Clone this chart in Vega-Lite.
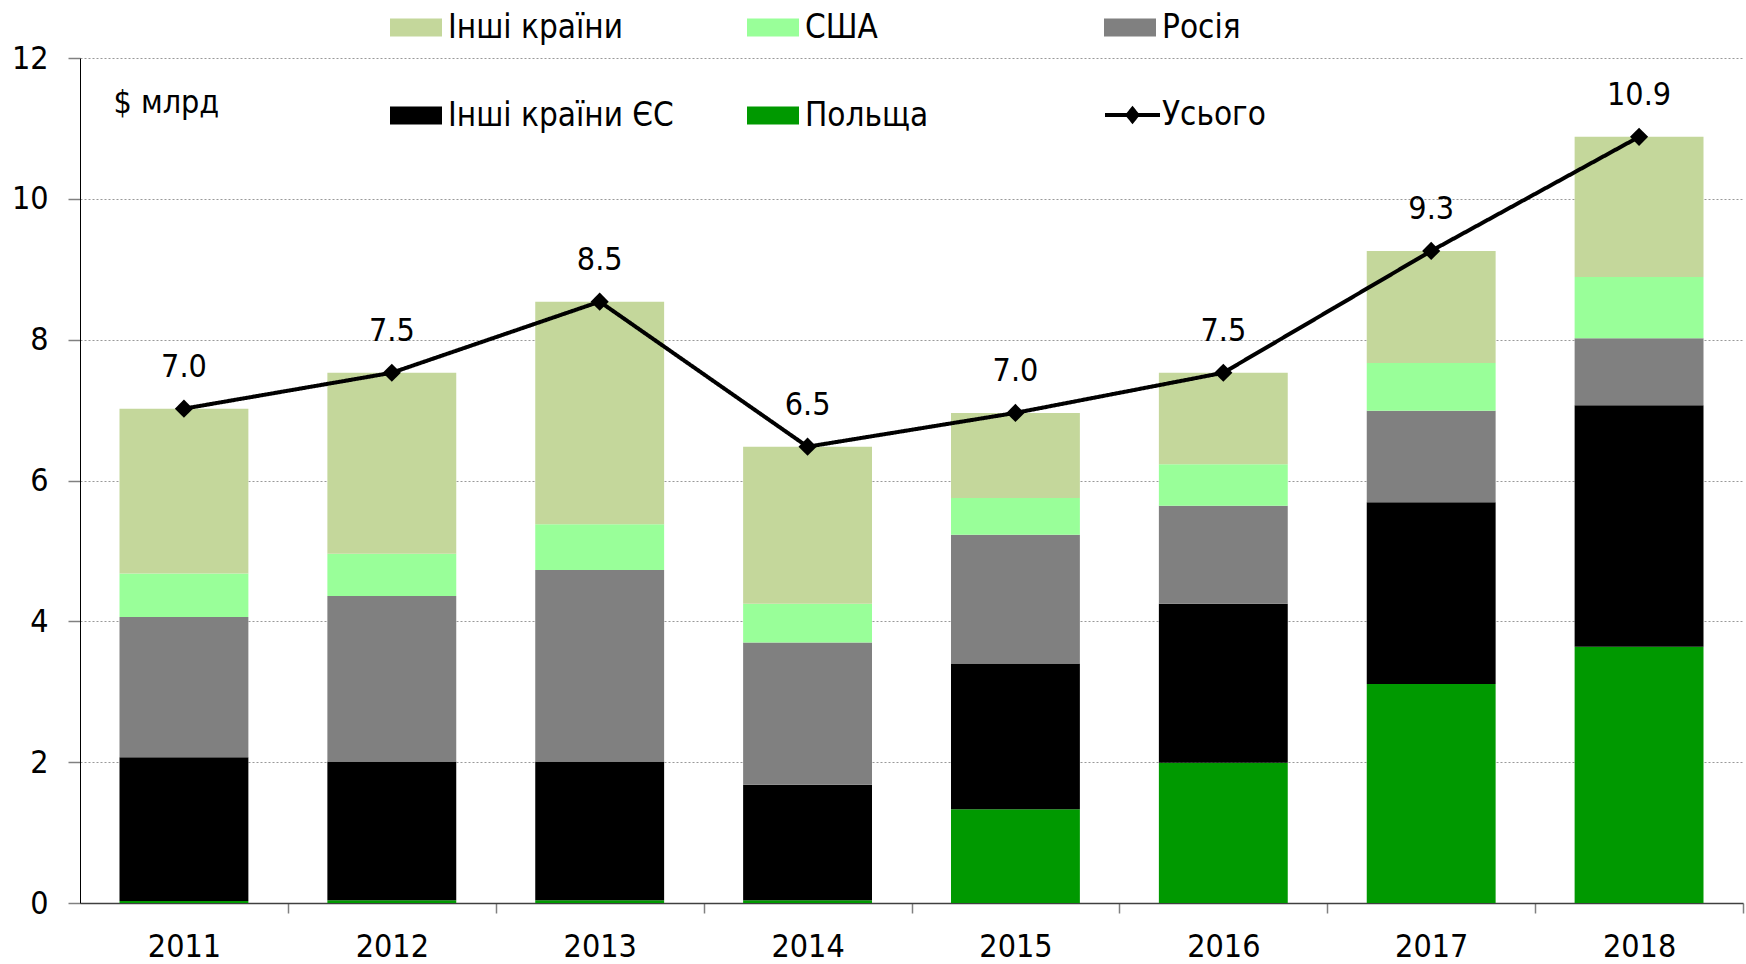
{
  "$schema": "https://vega.github.io/schema/vega-lite/v6.json",
  "width": 1663,
  "height": 845,
  "autosize": {"type": "none"},
  "padding": {"left": 80, "top": 58, "right": 3, "bottom": 61},
  "background": "white",
  "config": {
    "font": "DejaVu Sans Condensed",
    "view": {"stroke": null}
  },
  "datasets": {
    "bars": [
      {"year": "2011", "country": "Польща", "value": 0.03},
      {"year": "2011", "country": "Інші країни ЄС", "value": 2.04},
      {"year": "2011", "country": "Росія", "value": 1.99},
      {"year": "2011", "country": "США", "value": 0.62},
      {"year": "2011", "country": "Інші країни", "value": 2.34},
      {"year": "2012", "country": "Польща", "value": 0.04},
      {"year": "2012", "country": "Інші країни ЄС", "value": 1.97},
      {"year": "2012", "country": "Росія", "value": 2.35},
      {"year": "2012", "country": "США", "value": 0.60},
      {"year": "2012", "country": "Інші країни", "value": 2.57},
      {"year": "2013", "country": "Польща", "value": 0.04},
      {"year": "2013", "country": "Інші країни ЄС", "value": 1.97},
      {"year": "2013", "country": "Росія", "value": 2.72},
      {"year": "2013", "country": "США", "value": 0.65},
      {"year": "2013", "country": "Інші країни", "value": 3.16},
      {"year": "2014", "country": "Польща", "value": 0.04},
      {"year": "2014", "country": "Інші країни ЄС", "value": 1.64},
      {"year": "2014", "country": "Росія", "value": 2.02},
      {"year": "2014", "country": "США", "value": 0.55},
      {"year": "2014", "country": "Інші країни", "value": 2.23},
      {"year": "2015", "country": "Польща", "value": 1.33},
      {"year": "2015", "country": "Інші країни ЄС", "value": 2.07},
      {"year": "2015", "country": "Росія", "value": 1.83},
      {"year": "2015", "country": "США", "value": 0.52},
      {"year": "2015", "country": "Інші країни", "value": 1.21},
      {"year": "2016", "country": "Польща", "value": 1.99},
      {"year": "2016", "country": "Інші країни ЄС", "value": 2.26},
      {"year": "2016", "country": "Росія", "value": 1.39},
      {"year": "2016", "country": "США", "value": 0.59},
      {"year": "2016", "country": "Інші країни", "value": 1.30},
      {"year": "2017", "country": "Польща", "value": 3.11},
      {"year": "2017", "country": "Інші країни ЄС", "value": 2.58},
      {"year": "2017", "country": "Росія", "value": 1.30},
      {"year": "2017", "country": "США", "value": 0.68},
      {"year": "2017", "country": "Інші країни", "value": 1.59},
      {"year": "2018", "country": "Польща", "value": 3.64},
      {"year": "2018", "country": "Інші країни ЄС", "value": 3.43},
      {"year": "2018", "country": "Росія", "value": 0.95},
      {"year": "2018", "country": "США", "value": 0.87},
      {"year": "2018", "country": "Інші країни", "value": 1.99}
    ],
    "totals": [
      {"year": "2011", "total": 7.02, "series": "Усього"},
      {"year": "2012", "total": 7.53, "series": "Усього"},
      {"year": "2013", "total": 8.54, "series": "Усього"},
      {"year": "2014", "total": 6.48, "series": "Усього"},
      {"year": "2015", "total": 6.96, "series": "Усього"},
      {"year": "2016", "total": 7.53, "series": "Усього"},
      {"year": "2017", "total": 9.26, "series": "Усього"},
      {"year": "2018", "total": 10.88, "series": "Усього"}
    ]
  },
  "layer": [
    {
      "data": {"name": "bars"},
      "transform": [{"window": [{"op": "row_number", "as": "stackIdx"}], "groupby": ["year"]}],
      "mark": {"type": "bar"},
      "encoding": {
        "x": {
          "field": "year", "type": "ordinal",
          "scale": {"paddingInner": 0.38, "paddingOuter": 0.19},
          "axis": {
            "title": null, "labelAngle": 0, "labelFontSize": 32, "labelColor": "black",
            "bandPosition": 1, "tickOffset": 39.5, "labelOffset": -39.5,
            "tickSize": 10, "tickColor": "#808080", "tickWidth": 1.5,
            "domainColor": "#404040", "domainWidth": 1.5, "labelPadding": 18
          }
        },
        "y": {
          "field": "value", "type": "quantitative", "stack": "zero",
          "scale": {"domain": [0, 12], "nice": false},
          "axis": {
            "values": [0, 2, 4, 6, 8, 10, 12], "format": "d",
            "grid": true, "gridDash": [2, 2], "gridColor": "#999999", "gridWidth": 1,
            "domainColor": "black", "domainWidth": 1,
            "tickColor": "#808080", "tickSize": 12, "tickWidth": 1.5,
            "labelFontSize": 32, "labelColor": "black", "labelPadding": 20,
            "title": "$ млрд", "titleAngle": 0, "titleAlign": "left", "titleBaseline": "middle",
            "titleX": 33, "titleY": 44, "titleFontSize": 32, "titleFontWeight": "normal", "titleColor": "black"
          }
        },
        "color": {
          "field": "country", "type": "nominal",
          "scale": {
            "domain": ["Інші країни", "США", "Росія", "Інші країни ЄС", "Польща"],
            "range": ["#C4D79B", "#99FF99", "#808080", "#000000", "#009900"]
          },
          "legend": {
            "title": null, "orient": "none", "legendX": 310, "legendY": -56.5,
            "direction": "horizontal",
            "columns": 3, "gridAlign": "all", "columnPadding": 73, "rowPadding": 45,
            "symbolType": "M-1,-0.35H1V0.35H-1Z", "symbolSize": 2704, "symbolStrokeWidth": 0,
            "labelFontSize": 33, "labelColor": "black", "labelOffset": 6, "labelLimit": 400
          }
        },
        "order": {"field": "stackIdx", "type": "quantitative", "sort": "ascending"}
      }
    },
    {
      "data": {"name": "totals"},
      "mark": {"type": "line", "color": "black", "strokeWidth": 4},
      "encoding": {
        "x": {"field": "year", "type": "ordinal", "axis": {"title": null}},
        "y": {"field": "total", "type": "quantitative", "axis": {"title": "$ млрд", "format": "d"}},
        "strokeDash": {
          "field": "series", "type": "nominal",
          "scale": {"range": [[1, 0]]},
          "legend": {
            "title": null, "orient": "none", "legendX": 1023, "legendY": 27.5,
            "symbolType": "M-1,0H1M-0.18,0L0,-0.22L0.18,0L0,0.22Z", "symbolSize": 3025,
            "symbolStrokeWidth": 4, "symbolFillColor": "black", "symbolStrokeColor": "black",
            "labelFontSize": 33, "labelColor": "black", "labelOffset": 0
          }
        }
      }
    },
    {
      "data": {"name": "totals"},
      "mark": {"type": "point", "shape": "diamond", "filled": true, "color": "black", "size": 330, "opacity": 1},
      "encoding": {
        "x": {"field": "year", "type": "ordinal", "axis": {"title": null}},
        "y": {"field": "total", "type": "quantitative", "axis": {"title": "$ млрд", "format": "d"}}
      }
    },
    {
      "data": {"name": "totals"},
      "mark": {"type": "text", "dy": -42, "fontSize": 32, "color": "black"},
      "encoding": {
        "x": {"field": "year", "type": "ordinal", "axis": {"title": null}},
        "y": {"field": "total", "type": "quantitative", "axis": {"title": "$ млрд", "format": "d"}},
        "text": {"field": "total", "type": "quantitative", "format": ".1f"}
      }
    }
  ]
}
